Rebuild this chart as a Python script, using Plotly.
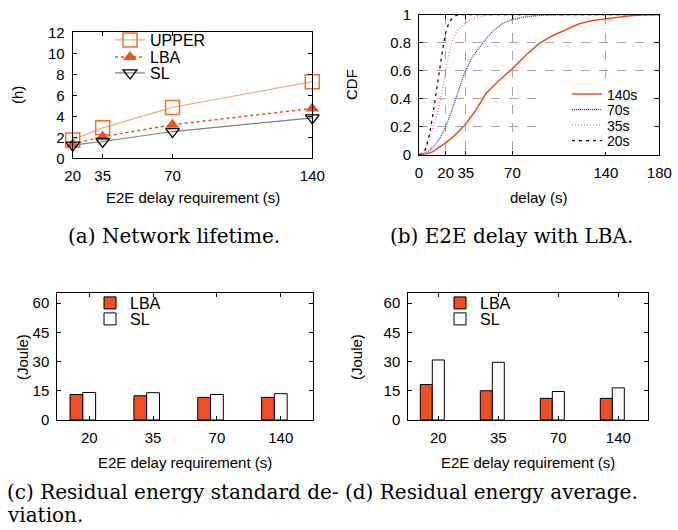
import plotly.graph_objects as go

W, H = 678, 530

# ---------------- data ----------------
delay_req = [20, 35, 70, 140]
upper_life = [1.75, 2.9, 4.85, 7.3]
lba_life = [1.35, 2.05, 3.2, 4.75]
sl_life = [1.25, 1.6, 2.55, 3.85]

cdf140_x = [0, 5, 10, 15, 20, 27, 35, 42, 50, 60, 70, 80, 90, 100, 110, 120, 130, 140, 150, 160, 170, 180]
cdf140_y = [0, 0.005, 0.02, 0.05, 0.085, 0.14, 0.22, 0.31, 0.435, 0.53, 0.615, 0.71, 0.795, 0.85, 0.89, 0.935, 0.958, 0.97, 0.985, 0.995, 1.0, 1.0]
cdf70_x = [0, 3, 8, 13, 17, 20, 24, 27, 30, 34, 40, 48, 55, 63, 70, 80, 90, 100, 110, 180]
cdf70_y = [0, 0.005, 0.03, 0.08, 0.14, 0.2, 0.3, 0.39, 0.47, 0.58, 0.7, 0.8, 0.88, 0.94, 0.965, 0.985, 0.995, 0.998, 1.0, 1.0]
cdf35_x = [0, 3, 6, 8, 11, 14, 16, 18, 20, 22, 24.5, 28, 34.5, 40, 46, 52, 58, 180]
cdf35_y = [0, 0.02, 0.06, 0.12, 0.2, 0.3, 0.39, 0.5, 0.6, 0.7, 0.8, 0.88, 0.94, 0.97, 0.99, 0.997, 1.0, 1.0]
cdf20_x = [0, 2, 5, 8, 10, 12, 14, 16, 18, 20, 22, 24, 26, 28, 30, 180]
cdf20_y = [0, 0.005, 0.04, 0.15, 0.26, 0.39, 0.52, 0.64, 0.77, 0.87, 0.93, 0.965, 0.985, 0.995, 1.0, 1.0]

bar_cats = ["20", "35", "70", "140"]
std_lba = [13.1, 12.4, 11.6, 11.6]
std_sl = [14.1, 14.0, 13.1, 13.5]
avg_lba = [18.2, 15.0, 11.1, 11.1]
avg_sl = [30.8, 29.6, 14.6, 16.5]

# ---------------- style ----------------
SANS = "Liberation Sans, Arial, sans-serif"
SERIF = "DejaVu Serif, serif"
C_UPPER_LINE = "#f9ab80"
C_UPPER_MARK = "#f07030"
C_LBA = "#f04e23"
C_SL = "#808080"
C_70 = "#2e3ea8"
C_35 = "#e070d0"


def px(x):
    return x / W


def py(y):
    return 1 - y / H


fig = go.Figure()

# panel (a)
fig.add_trace(go.Scatter(x=delay_req, y=upper_life, name="UPPER", mode="lines+markers",
                         line=dict(color=C_UPPER_LINE, width=1.2),
                         marker=dict(symbol="square-open", size=14, color=C_UPPER_MARK, line=dict(width=1.5)),
                         cliponaxis=False, xaxis="x", yaxis="y", legend="legend"))
fig.add_trace(go.Scatter(x=delay_req, y=lba_life, name="LBA", mode="lines+markers",
                         line=dict(color=C_LBA, width=1.5, dash="dot"),
                         marker=dict(symbol="triangle-up", size=12, color=C_LBA),
                         cliponaxis=False, xaxis="x", yaxis="y", legend="legend2"))
fig.add_trace(go.Scatter(x=delay_req, y=sl_life, name="SL", mode="lines+markers",
                         line=dict(color=C_SL, width=1.2),
                         marker=dict(symbol="triangle-down-open", size=12, color="black", line=dict(width=1.3)),
                         cliponaxis=False, xaxis="x", yaxis="y", legend="legend3"))

# panel (b)
fig.add_trace(go.Scatter(x=cdf140_x, y=cdf140_y, name="140s", mode="lines",
                         line=dict(color=C_LBA, width=1.5), xaxis="x2", yaxis="y2", legend="legend4"))
fig.add_trace(go.Scatter(x=cdf70_x, y=cdf70_y, name="70s", mode="lines",
                         line=dict(color=C_70, width=1.3, dash="1px,1px"), xaxis="x2", yaxis="y2", legend="legend5"))
fig.add_trace(go.Scatter(x=cdf35_x, y=cdf35_y, name="35s", mode="lines",
                         line=dict(color=C_35, width=1.3, dash="1px,2px"), xaxis="x2", yaxis="y2", legend="legend6"))
fig.add_trace(go.Scatter(x=cdf20_x, y=cdf20_y, name="20s", mode="lines",
                         line=dict(color="black", width=1.2, dash="3px,4px"), xaxis="x2", yaxis="y2", legend="legend7"))

# panel (c)
fig.add_trace(go.Bar(x=bar_cats, y=std_lba, name="LBA", offset=-0.3, width=0.2,
                     marker=dict(color=C_LBA, line=dict(color="black", width=1)),
                     xaxis="x3", yaxis="y3", legend="legend8"))
fig.add_trace(go.Bar(x=bar_cats, y=std_sl, name="SL", offset=-0.1, width=0.2,
                     marker=dict(color="white", line=dict(color="black", width=1)),
                     xaxis="x3", yaxis="y3", legend="legend9"))
# panel (d)
fig.add_trace(go.Bar(x=bar_cats, y=avg_lba, name="LBA", offset=-0.3, width=0.2,
                     marker=dict(color=C_LBA, line=dict(color="black", width=1)),
                     xaxis="x4", yaxis="y4", legend="legend10"))
fig.add_trace(go.Bar(x=bar_cats, y=avg_sl, name="SL", offset=-0.1, width=0.2,
                     marker=dict(color="white", line=dict(color="black", width=1)),
                     xaxis="x4", yaxis="y4", legend="legend11"))

axis_common = dict(showline=True, linecolor="black", linewidth=1, mirror="allticks",
                   ticks="inside", ticklen=4, tickwidth=1, tickcolor="black",
                   tickfont=dict(family=SANS, size=15, color="black"),
                   showgrid=False, zeroline=False, ticklabelstandoff=4, automargin=False)

layout = dict(
    width=W, height=H, margin=dict(l=0, r=0, t=0, b=0, autoexpand=False),
    paper_bgcolor="white", plot_bgcolor="white",
    barmode="overlay", showlegend=True,
    font=dict(family=SANS, color="black"),
)

# axes (a)
layout["xaxis"] = dict(axis_common, domain=[px(72.7), px(312.3)], range=[20, 140],
                       tickvals=delay_req, anchor="y")
layout["yaxis"] = dict(axis_common, domain=[py(158.3), py(32.3)], range=[0, 12], dtick=2, anchor="x")
# axes (b)
layout["xaxis2"] = dict(axis_common, domain=[px(419), px(659.3)], range=[0, 180],
                        tickvals=[0, 20, 35, 70, 140, 180], anchor="y2",
                        showgrid=True, gridcolor="#a8a8a8", griddash="dash", gridwidth=1)
layout["yaxis2"] = dict(axis_common, domain=[py(154.7), py(14.7)], range=[0, 1], dtick=0.2, anchor="x2",
                        showgrid=True, gridcolor="#a8a8a8", griddash="dash", gridwidth=1)
# axes (c)
layout["xaxis3"] = dict(axis_common, domain=[px(57.3), px(312.7)], type="category",
                        categoryorder="array", categoryarray=bar_cats, range=[-0.5, 3.5], anchor="y3")
layout["yaxis3"] = dict(axis_common, domain=[py(420), py(293.3)], range=[0, 65],
                        tickvals=[0, 15, 30, 45, 60], anchor="x3")
# axes (d)
layout["xaxis4"] = dict(axis_common, domain=[px(408.3), px(648.3)], type="category",
                        categoryorder="array", categoryarray=bar_cats, range=[-0.5, 3.5], anchor="y4")
layout["yaxis4"] = dict(axis_common, domain=[py(420), py(293.3)], range=[0, 65],
                        tickvals=[0, 15, 30, 45, 60], anchor="x4")

# legends: one per entry, positioned individually
def leg(x_left, y_center, size=16):
    return dict(x=px(x_left), y=py(y_center), xanchor="left", yanchor="middle",
                bgcolor="rgba(0,0,0,0)", borderwidth=0,
                font=dict(family=SANS, size=size, color="black"), itemclick=False)


layout["legend"] = leg(110, 40)
layout["legend2"] = leg(110, 57)
layout["legend3"] = leg(110, 73)
layout["legend4"] = leg(567, 94.5, 14)
layout["legend5"] = leg(567, 110, 14)
layout["legend6"] = leg(567, 125.5, 14)
layout["legend7"] = leg(567, 141, 14)
layout["legend8"] = leg(90, 303)
layout["legend9"] = leg(90, 319)
layout["legend10"] = leg(440, 303)
layout["legend11"] = leg(440, 319)

fig.update_layout(**layout)

# white key box of panel (b), drawn over the grid like gnuplot's opaque key
fig.add_shape(type="rect", xref="paper", yref="paper",
              x0=px(537), x1=px(650), y0=py(152), y1=py(84),
              fillcolor="white", line=dict(width=0), layer="above")

# axis titles and captions
def note(text, x, y, size=15, family=SANS, angle=0, xanchor="center"):
    fig.add_annotation(text=text, x=px(x), y=py(y), xref="paper", yref="paper",
                       showarrow=False, textangle=angle, xanchor=xanchor, yanchor="middle",
                       font=dict(family=family, size=size, color="black"))


note("E2E delay requirement (s)", 193, 197)
note("delay (s)", 539, 197)
note("E2E delay requirement (s)", 185, 462)
note("E2E delay requirement (s)", 528, 462)
note("(h)", 18, 95, angle=-90)
note("CDF", 352, 85, angle=-90)
note("(Joule)", 22, 357, angle=-90)
note("(Joule)", 356, 357, angle=-90)

note("(a) Network lifetime.", 174, 236, size=20, family=SERIF)
note("(b) E2E delay with LBA.", 511, 236, size=20, family=SERIF)
note("(c) Residual energy standard de-", 5, 492, size=20, family=SERIF, xanchor="left")
note("viation.", 5, 515, size=20, family=SERIF, xanchor="left")
note("(d) Residual energy average.", 343, 492, size=20, family=SERIF, xanchor="left")

fig.write_html("out.html", config={"displayModeBar": False},
               post_script="document.body.style.margin='0';document.body.style.overflow='hidden';")
